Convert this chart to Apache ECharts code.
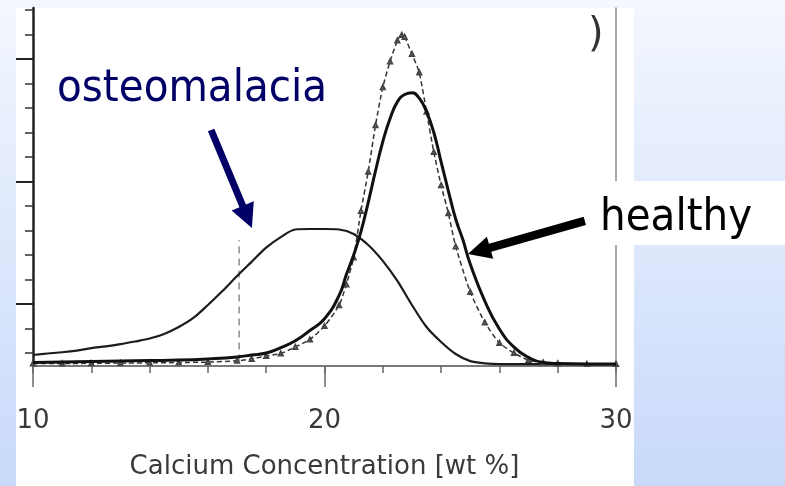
<!DOCTYPE html>
<html><head><meta charset="utf-8">
<script src="https://cdn.jsdelivr.net/npm/echarts@6/dist/echarts.min.js"></script>
<style>html,body{margin:0;padding:0;background:#fff;}#c{width:785px;height:486px;}</style>
</head><body><div id="c"></div><script>
// ---- data (calcium concentration in wt %, relative frequency in arbitrary units) ----
const osteoX = [10,10.5,11,11.5,12,12.5,13,13.5,14,14.5,15,15.5,16,16.5,17,17.5,18,18.5,19,19.5,20,20.5,21,21.5,22,22.5,23,23.5,24,24.5,25,25.5,26,27,28,29,30];
const osteoY = [-0.08,-0.02,0.03,0.10,0.20,0.27,0.36,0.47,0.59,0.78,1.06,1.43,1.96,2.53,3.14,3.72,4.3,4.73,5.04,5.06,5.06,5.04,4.86,4.41,3.76,2.94,1.96,1.06,0.45,-0.04,-0.33,-0.42,-0.45,-0.45,-0.45,-0.45,-0.45];

const healthyFitX = [10,11,12,13,14,15,16,17,17.5,18,18.5,19,19.5,20,20.5,20.75,21,21.25,21.5,21.75,22,22.25,22.5,22.75,23,23.25,23.5,23.75,24,24.25,24.5,24.75,25,25.5,26,26.5,27,27.5,28,29,30];
const healthyFitY = [-0.39,-0.37,-0.35,-0.33,-0.31,-0.29,-0.24,-0.16,-0.08,0,0.22,0.5,0.92,1.4,2.35,3.2,4.0,4.95,6.15,7.43,8.63,9.57,10.25,10.55,10.62,10.4,9.85,9.0,7.8,6.61,5.47,4.61,3.63,2.12,0.98,0.24,-0.18,-0.39,-0.43,-0.45,-0.45];

const healthyDataX = [10,11,12,13,14,15,16,17,17.5,18,18.5,19,19.5,20,20.5,20.75,21,21.25,21.5,21.75,22,22.25,22.5,22.65,22.75,23,23.25,23.5,23.75,24,24.25,24.5,25,25.5,26,26.5,27,27.5,28,29,30];
const healthyDataY = [-0.43,-0.43,-0.42,-0.41,-0.40,-0.39,-0.37,-0.32,-0.24,-0.12,-0.02,0.25,0.55,1.1,1.95,2.8,3.9,5.8,7.4,9.3,10.85,11.9,12.75,12.98,12.9,12.2,11.45,9.85,8.2,6.85,5.7,4.35,2.49,1.25,0.41,0,-0.29,-0.39,-0.43,-0.45,-0.45];

const markerX = [17.07, 17.07];
const markerY = [-0.35, 4.6];

const xMajorTicks = [10, 20, 30];
const yMinorTicks = [0,1,2,3,4,5,6,7,8,9,10,11,12,13,14];
const yMajorTicks = [2, 7, 12];

const xTitle = 'Calcium Concentration [wt %]';
const labelOsteo = 'osteomalacia';
const labelHealthy = 'healthy';
// annotation arrows (data coordinates: from -> to)
const arrowOsteo = [[16.11, 9.10], [17.51, 5.10]];
const arrowHealthy = [[28.93, 5.39], [24.92, 4.04]];

const zip = (xs, ys) => xs.map((x, i) => [x, ys[i]]);
const Y_MIN = -0.53, Y_MAX = 14.08;
const FONT_LABEL = '"DejaVu Sans Condensed", "DejaVu Sans", sans-serif';

const chart = echarts.init(document.getElementById('c'), null, {renderer: 'canvas'});

const option = {
  animation: false,
  grid: {left: 33, right: 169, top: 8, bottom: 120, containLabel: false},
  xAxis: [
    {type: 'value', min: 10, max: 30, interval: 2, position: 'bottom',
     axisLine: {show: true, onZero: false, lineStyle: {color: '#7a7a7a', width: 2}},
     axisTick: {show: true, length: 7, lineStyle: {color: '#666', width: 1.5}},
     axisLabel: {show: false}, splitLine: {show: false}},
    {type: 'value', min: 10, max: 30, interval: 10, position: 'bottom',
     axisLine: {show: false, onZero: false},
     axisTick: {show: true, length: 21, lineStyle: {color: '#6a6a6a', width: 1.5}},
     axisLabel: {show: true, fontSize: 26, fontFamily: 'DejaVu Sans', color: '#3a3a3a', margin: 42,
                 showMinLabel: true, showMaxLabel: true},
     name: xTitle, nameLocation: 'middle', nameGap: 88,
     nameTextStyle: {fontSize: 26, fontFamily: 'DejaVu Sans', color: '#3a3a3a'},
     splitLine: {show: false}}
  ],
  yAxis: [
    {type: 'value', min: Y_MIN, max: Y_MAX, position: 'left',
     axisLine: {show: true, onZero: false, lineStyle: {color: '#222', width: 2.5}},
     axisTick: {show: true, length: 8, customValues: yMinorTicks, lineStyle: {color: '#333', width: 1.5}},
     axisLabel: {show: false}, splitLine: {show: false}},
    {type: 'value', min: Y_MIN, max: Y_MAX, position: 'left',
     axisLine: {show: false, onZero: false},
     axisTick: {show: true, length: 17, customValues: yMajorTicks, lineStyle: {color: '#222', width: 2}},
     axisLabel: {show: false}, splitLine: {show: false}},
    {type: 'value', min: Y_MIN, max: Y_MAX, position: 'right',
     axisLine: {show: true, onZero: false, lineStyle: {color: '#888', width: 1.5}},
     axisTick: {show: false}, axisLabel: {show: false}, splitLine: {show: false}}
  ],
  series: [
    {name: 'osteomalacia', type: 'line', data: zip(osteoX, osteoY), showSymbol: false, smooth: 0.3,
     lineStyle: {color: '#1c1c1c', width: 2.2}, silent: true, z: 3},
    {name: 'healthy fit', type: 'line', data: zip(healthyFitX, healthyFitY), showSymbol: false, smooth: 0.5,
     lineStyle: {color: '#111', width: 3}, silent: true, z: 4},
    {name: 'healthy data', type: 'line', data: zip(healthyDataX, healthyDataY), smooth: 0.2,
     symbol: 'emptyTriangle', symbolSize: 4, showSymbol: true, showAllSymbol: true,
     itemStyle: {color: '#444', borderWidth: 1},
     lineStyle: {color: '#333', width: 1.5, type: [5, 3]}, silent: true, z: 3},
    {name: 'marker', type: 'line', data: zip(markerX, markerY), showSymbol: false,
     lineStyle: {color: '#8a8a8a', width: 1.5, type: [7, 5]}, silent: true, z: 2}
  ],
  graphic: {elements: [
    {type: 'rect', id: 'bg', z: -100, silent: true, shape: {x: 0, y: 0, width: 785, height: 486},
     style: {fill: new echarts.graphic.LinearGradient(0, 0, 0, 1, [
       {offset: 0, color: '#f3f7fe'}, {offset: 1, color: '#c8d9fa'}])}},
    {type: 'rect', id: 'paper', z: -90, silent: true, shape: {x: 16, y: 8, width: 618, height: 478},
     style: {fill: '#ffffff'}},
    {type: 'rect', id: 'hbox', z: 50, silent: true, shape: {x: 595, y: 181, width: 190, height: 64},
     style: {fill: '#ffffff'}},
    {type: 'text', id: 'paren', z: 1, silent: true,
     style: {text: ')', x: 588, y: 36, font: '40px "DejaVu Sans"', fill: '#333', verticalAlign: 'middle', textVerticalAlign: 'middle'}},
    {type: 'text', id: 'tOsteo', z: 60, silent: true,
     style: {text: labelOsteo, x: 57, y: 89, font: '45px ' + FONT_LABEL, fill: '#000066',
             verticalAlign: 'middle', textVerticalAlign: 'middle'}},
    {type: 'text', id: 'tHealthy', z: 60, silent: true,
     style: {text: labelHealthy, x: 600, y: 218, font: '45px ' + FONT_LABEL, fill: '#000000',
             verticalAlign: 'middle', textVerticalAlign: 'middle'}}
  ]}
};
chart.setOption(option);

function arrowPoly(fromD, toD, shaftW, headL, headW) {
  const p0 = chart.convertToPixel({gridIndex: 0}, fromD);
  const p1 = chart.convertToPixel({gridIndex: 0}, toD);
  const dx = p1[0] - p0[0], dy = p1[1] - p0[1];
  const len = Math.hypot(dx, dy);
  const ux = dx / len, uy = dy / len, nx = -uy, ny = ux;
  const bx = p1[0] - ux * headL, by = p1[1] - uy * headL;
  const s = shaftW / 2, h = headW / 2;
  return [
    [p0[0] + nx * s, p0[1] + ny * s], [bx + nx * s, by + ny * s], [bx + nx * h, by + ny * h],
    [p1[0], p1[1]],
    [bx - nx * h, by - ny * h], [bx - nx * s, by - ny * s], [p0[0] - nx * s, p0[1] - ny * s]
  ];
}
chart.setOption({graphic: {elements: [
  {type: 'polygon', id: 'aOsteo', z: 60, silent: true,
   shape: {points: arrowPoly(arrowOsteo[0], arrowOsteo[1], 7, 24, 24)}, style: {fill: '#000066'}},
  {type: 'polygon', id: 'aHealthy', z: 60, silent: true,
   shape: {points: arrowPoly(arrowHealthy[0], arrowHealthy[1], 8.5, 23, 23)}, style: {fill: '#000000'}}
]}});
</script></body></html>
